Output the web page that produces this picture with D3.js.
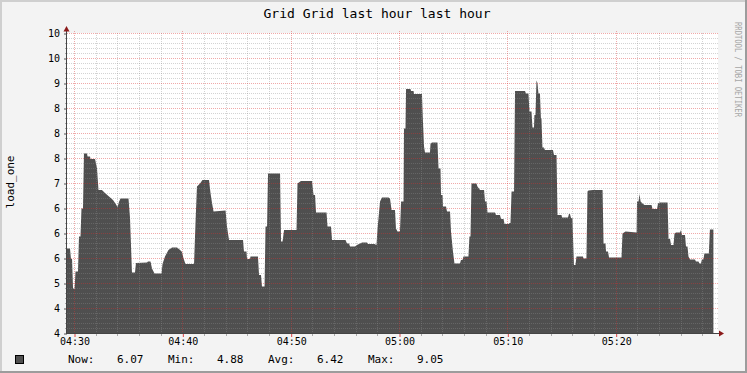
<!DOCTYPE html>
<html><head><meta charset="utf-8">
<script src="https://cdn.jsdelivr.net/npm/d3@7"></script>
<style>
body{margin:0;background:#f3f3f3}
svg{display:block}
text{font-family:"DejaVu Sans Mono",monospace}
</style>
</head><body>
<svg id="c" width="747" height="373"></svg>
<script>
const titleText = "Grid Grid last hour last hour";
const yLabelText = "load_one";
const watermarkText = "RRDTOOL / TOBI OETIKER";
// minutes after 04:30
const minutes = [-0.65,-0.37,-0.28,-0.18,-0.09,0.05,0.14,0.37,0.46,0.60,0.69,0.83,0.92,1.20,1.25,1.48,1.52,1.94,2.12,2.26,2.58,2.86,3.23,3.60,3.88,4.02,4.15,4.29,5.03,5.17,5.35,5.63,5.72,6.74,6.83,7.06,7.20,7.43,8.08,8.17,8.40,8.72,9.05,9.51,9.79,9.97,10.11,10.29,11.08,11.22,11.35,11.63,11.86,12.46,12.60,12.74,12.88,13.99,14.12,14.31,15.60,15.69,15.92,15.97,16.25,16.29,16.98,17.08,17.26,17.35,17.59,17.68,17.82,17.91,19.02,19.11,19.25,19.39,20.54,20.63,20.95,21.97,22.11,22.25,22.34,23.31,23.40,23.72,23.82,25.06,25.20,25.39,25.48,25.94,26.12,26.59,27.05,27.14,27.74,27.92,28.02,28.25,28.43,29.03,29.17,29.31,29.63,29.72,29.86,30.09,30.19,30.42,30.46,30.60,30.65,31.06,31.11,31.34,31.39,32.12,32.21,32.31,32.40,32.86,32.91,33.05,33.55,33.65,33.83,33.88,34.02,34.06,34.34,34.43,34.71,34.80,34.98,35.12,35.63,35.72,35.86,35.95,36.41,36.50,36.60,36.69,37.15,37.24,37.48,37.85,37.94,38.08,38.17,38.86,38.95,39.32,39.42,39.65,39.74,40.11,40.20,40.29,40.39,40.62,40.71,41.63,41.72,41.95,42.04,42.23,42.32,42.46,42.50,42.60,42.69,42.78,42.87,43.01,43.10,43.15,43.24,43.38,43.47,44.21,44.31,44.54,44.63,45.00,45.05,45.60,45.69,45.78,45.88,46.01,46.06,46.15,46.29,46.38,46.98,47.03,47.30,47.40,47.49,47.91,48.79,48.88,49.06,49.11,49.29,49.39,50.54,50.63,50.91,51.93,51.97,52.11,52.20,52.30,52.48,52.66,53.31,53.40,53.82,53.91,54.05,54.79,54.88,55.02,55.11,55.34,55.43,55.57,55.94,56.03,56.12,56.40,56.49,56.63,56.72,56.86,57.32,57.41,57.64,57.73,57.87,57.96,58.10,58.19,58.60,58.70,59.02];
const loadOne = [5.69,5.69,5.48,5.48,4.89,4.88,5.23,5.23,5.93,5.93,6.49,6.49,7.59,7.59,7.53,7.53,7.48,7.48,7.3,6.86,6.86,6.8,6.73,6.66,6.57,6.52,6.62,6.69,6.69,6.3,5.21,5.21,5.4,5.41,5.43,5.43,5.29,5.19,5.19,5.38,5.53,5.66,5.71,5.71,5.66,5.62,5.49,5.38,5.38,6.23,6.93,6.99,7.06,7.06,6.8,6.6,6.43,6.45,6.13,5.86,5.86,5.63,5.63,5.48,5.48,5.53,5.53,5.16,5.16,4.93,4.93,6.13,6.13,7.19,7.19,5.83,5.83,6.06,6.06,6.99,7.04,7.04,6.76,6.76,6.41,6.41,6.13,6.13,5.86,5.86,5.79,5.79,5.73,5.73,5.76,5.81,5.81,5.78,5.78,5.76,6.09,6.63,6.71,6.71,6.69,6.46,6.46,6.09,6.03,6.03,6.63,6.63,8.09,8.09,8.88,8.88,8.84,8.84,8.78,8.78,8.23,7.73,7.61,7.61,7.79,7.81,7.81,7.29,7.29,6.76,6.76,6.53,6.53,6.43,6.43,6.03,5.63,5.39,5.39,5.46,5.46,5.53,5.53,5.93,5.93,6.99,6.99,6.93,6.86,6.86,6.63,6.63,6.41,6.41,6.36,6.36,6.28,6.28,6.18,6.18,6.2,6.2,6.83,6.83,8.84,8.84,8.79,8.79,8.43,8.43,8.11,8.11,8.36,8.36,9.05,9.0,8.79,8.79,8.29,8.29,7.71,7.71,7.66,7.66,7.56,7.56,6.36,6.36,6.31,6.31,6.38,6.38,6.3,6.3,5.93,5.36,5.36,5.53,5.53,5.49,5.49,6.83,6.85,6.86,6.86,5.79,5.79,5.63,5.63,5.51,5.51,5.99,6.03,6.01,6.63,6.63,6.78,6.63,6.59,6.56,6.56,6.48,6.48,6.59,6.61,6.61,5.88,5.88,5.76,5.76,5.99,6.01,6.01,6.06,5.96,5.96,5.73,5.73,5.53,5.47,5.47,5.43,5.43,5.39,5.39,5.47,5.47,5.59,5.59,6.07,6.07];
const yTickValues = [4,4.5,5,5.5,6,6.5,7,7.5,8,8.5,9,9.5,10];
const yTickLabels = ["4","4","5","6","6","6","7","8","8","8","9","10","10"];
const legendLabels = ["Now:","Min:","Avg:","Max:"];
const legendValues = ["6.07","4.88","6.42","9.05"];

const svg = d3.select("#c");
const W = 747, H = 373;
const L = 67, R = 717, T = 33, B = 333;

// frame
svg.append("rect").attr("x",0).attr("y",0).attr("width",W).attr("height",H).attr("fill","#f3f3f3");
svg.append("rect").attr("x",0).attr("y",0).attr("width",W).attr("height",2).attr("fill","#cfcfcf");
svg.append("rect").attr("x",0).attr("y",0).attr("width",2).attr("height",H).attr("fill","#cfcfcf");
svg.append("rect").attr("x",0).attr("y",H-2).attr("width",W).attr("height",2).attr("fill","#9c9c9c");
svg.append("rect").attr("x",W-2).attr("y",0).attr("width",2).attr("height",H).attr("fill","#9c9c9c");

const base = new Date(2020,0,1,4,30,0);
const start = new Date(base.getTime() - 38.8*1000);
const end = new Date(start.getTime() + 3600*1000);
const x = d3.scaleTime().domain([start,end]).range([L,R]);
const y = d3.scaleLinear().domain([4,10]).range([B,T]);

const n = Math.min(minutes.length, loadOne.length);
const data = d3.range(n).map(i => ({t:new Date(base.getTime()+minutes[i]*60000), v:loadOne[i]}));

// canvas
svg.append("rect").attr("x",L).attr("y",T).attr("width",R-L+1).attr("height",B-T).attr("fill","#ffffff");

// area
svg.append("path").datum(data)
  .attr("fill","#4f4f4f")
  .attr("d", d3.area().x(d=>x(d.t)).y0(y(4)).y1(d=>y(d.v)));

// grid
const g = svg.append("g");
const minorY = d3.range(0,61).map(i=>4+i*0.1).filter((v,i)=>i%5!==0);
g.selectAll("line.hy").data(minorY).enter().append("line")
  .attr("x1",L).attr("x2",R+1)
  .attr("y1",d=>Math.round(y(d))+0.5).attr("y2",d=>Math.round(y(d))+0.5)
  .attr("stroke","rgba(140,140,140,0.38)").attr("stroke-dasharray","1,1");
const minorX = d3.timeMinute.every(2).range(start,end).filter(d=>d.getMinutes()%10!==0);
g.selectAll("line.vx").data(minorX).enter().append("line")
  .attr("y1",T).attr("y2",B)
  .attr("x1",d=>Math.round(x(d))+0.5).attr("x2",d=>Math.round(x(d))+0.5)
  .attr("stroke","rgba(140,140,140,0.38)").attr("stroke-dasharray","1,1");
g.selectAll("line.my").data(yTickValues).enter().append("line")
  .attr("x1",L).attr("x2",R+1)
  .attr("y1",d=>Math.round(y(d))+0.5).attr("y2",d=>Math.round(y(d))+0.5)
  .attr("stroke","rgba(220,50,50,0.42)").attr("stroke-dasharray","1,1");
const majorX = d3.timeMinute.every(10).range(start,end);
g.selectAll("line.mx").data(majorX).enter().append("line")
  .attr("y1",T-2).attr("y2",B)
  .attr("x1",d=>Math.round(x(d))+0.5).attr("x2",d=>Math.round(x(d))+0.5)
  .attr("stroke","rgba(220,50,50,0.42)").attr("stroke-dasharray","1,1");

// minor ticks
svg.selectAll("line.ty").data(minorY).enter().append("line")
  .attr("x1",L-2).attr("x2",L)
  .attr("y1",d=>Math.round(y(d))+0.5).attr("y2",d=>Math.round(y(d))+0.5)
  .attr("stroke","#aaaaaa");
svg.selectAll("line.tx").data(minorX).enter().append("line")
  .attr("y1",B).attr("y2",B+3)
  .attr("x1",d=>Math.round(x(d))+0.5).attr("x2",d=>Math.round(x(d))+0.5)
  .attr("stroke","#aaaaaa");

// axes
const yAxis = svg.append("g").attr("transform",`translate(${L},0.5)`)
  .call(d3.axisLeft(y).tickValues(yTickValues).tickFormat((d,i)=>yTickLabels[i]).tickSize(3).tickPadding(4));
yAxis.select(".domain").remove();
yAxis.selectAll("line").attr("stroke","#555555");
yAxis.selectAll("text").attr("font-size","10px").attr("fill","#000").attr("font-family","DejaVu Sans Mono");

const xAxis = svg.append("g").attr("transform",`translate(0.5,${B})`)
  .call(d3.axisBottom(x).ticks(d3.timeMinute.every(10)).tickFormat(d3.timeFormat("%H:%M")).tickSize(4).tickPadding(1));
xAxis.select(".domain").remove();
xAxis.selectAll("line").attr("stroke","#dd4444");
xAxis.selectAll("text").attr("font-size","10px").attr("fill","#000").attr("font-family","DejaVu Sans Mono");

// axis lines and arrows
svg.append("line").attr("x1",L-0.5).attr("x2",L-0.5).attr("y1",T-3).attr("y2",B+1).attr("stroke","#444");
svg.append("line").attr("x1",L-1).attr("x2",R+3).attr("y1",B+0.5).attr("y2",B+0.5).attr("stroke","#444");
svg.append("path").attr("d",`M${L-3.5},${T-1.5} L${L+2.5},${T-1.5} L${L-0.5},${T-7} Z`).attr("fill","#8b1a1a");
svg.append("path").attr("d",`M${R+2},${B-2.5} L${R+2},${B+3.5} L${R+7},${B+0.5} Z`).attr("fill","#8b1a1a");

// title
svg.append("text").attr("x",377).attr("y",18).attr("text-anchor","middle")
  .attr("font-size","13px").attr("fill","#000").text(titleText);
// y label
svg.append("text").attr("transform","translate(14,182) rotate(-90)").attr("text-anchor","middle")
  .attr("font-size","11px").attr("fill","#000").text(yLabelText);
// watermark
svg.append("text").attr("transform","translate(735,22) rotate(90)").attr("text-anchor","start")
  .attr("font-size","8px").attr("fill","#a6a6a6")
  .attr("textLength",95).attr("lengthAdjust","spacingAndGlyphs").text(watermarkText);

// legend
svg.append("rect").attr("x",15.5).attr("y",355.5).attr("width",8).attr("height",8)
  .attr("fill","#4f4f4f").attr("stroke","#000");
legendLabels.forEach((lab,i)=>{
  svg.append("text").attr("x",68+100*i).attr("y",363).attr("font-size","11px").attr("fill","#000").text(lab);
  svg.append("text").attr("x",117+100*i).attr("y",363).attr("font-size","11px").attr("fill","#000").text(legendValues[i]);
});
</script>
</body></html>
